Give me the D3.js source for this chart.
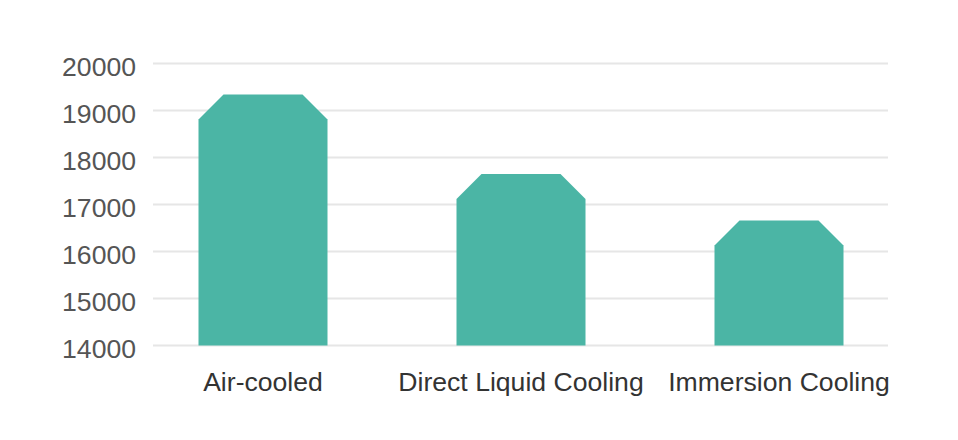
<!DOCTYPE html>
<html lang="en">
<head>
<meta charset="UTF-8">
<title>Cooling cost chart</title>
<script src="https://d3js.org/d3.v7.min.js"></script>
<style>
    body { margin: 0; background: #fff; font-family: "Liberation Sans", Arial, sans-serif; }
    .grid line { stroke: #e6e6e6; stroke-width: 2; }
    .ytick { fill: #555; font-size: 26.6px; }
    .xtick { fill: #333; font-size: 26.6px; }
</style>
</head>
<body>
<div id="chart"></div>
<script>
    // chart data
    const categories = ["Air-cooled", "Direct Liquid Cooling", "Immersion Cooling"];
    const values = [19340, 17650, 16660];
    const yTicks = [14000, 15000, 16000, 17000, 18000, 19000, 20000];

    const width = 958, height = 440;
    const svg = d3.select("#chart").append("svg")
        .attr("width", width)
        .attr("height", height);

    const x = d3.scaleBand()
        .domain(categories)
        .range([134, 908])
        .paddingInner(0.5)
        .paddingOuter(0.25);

    const y = d3.scaleLinear()
        .domain([14000, 20000])
        .range([345.5, 63.5]);

    // gridlines
    svg.append("g").attr("class", "grid")
        .selectAll("line")
        .data(yTicks)
        .enter().append("line")
        .attr("x1", 153).attr("x2", 888)
        .attr("y1", d => y(d)).attr("y2", d => y(d));

    // y labels
    svg.append("g")
        .selectAll("text")
        .data(yTicks)
        .enter().append("text")
        .attr("class", "ytick")
        .attr("x", 136)
        .attr("y", d => y(d) + 12.5)
        .attr("text-anchor", "end")
        .text(d => d);

    // bars with cut top corners
    const cut = 25;
    svg.append("g")
        .selectAll("path")
        .data(values)
        .enter().append("path")
        .attr("fill", "#4bb5a5")
        .attr("d", (d, i) => {
            const x0 = x(categories[i]), x1 = x0 + x.bandwidth();
            const top = y(d), base = y(14000);
            return `M${x0},${base}L${x0},${top + cut}L${x0 + cut},${top}` +
                   `L${x1 - cut},${top}L${x1},${top + cut}L${x1},${base}Z`;
        });

    // category labels
    svg.append("g")
        .selectAll("text")
        .data(categories)
        .enter().append("text")
        .attr("class", "xtick")
        .attr("x", d => x(d) + x.bandwidth() / 2)
        .attr("y", 391)
        .attr("text-anchor", "middle")
        .text(d => d);
</script>
</body>
</html>
